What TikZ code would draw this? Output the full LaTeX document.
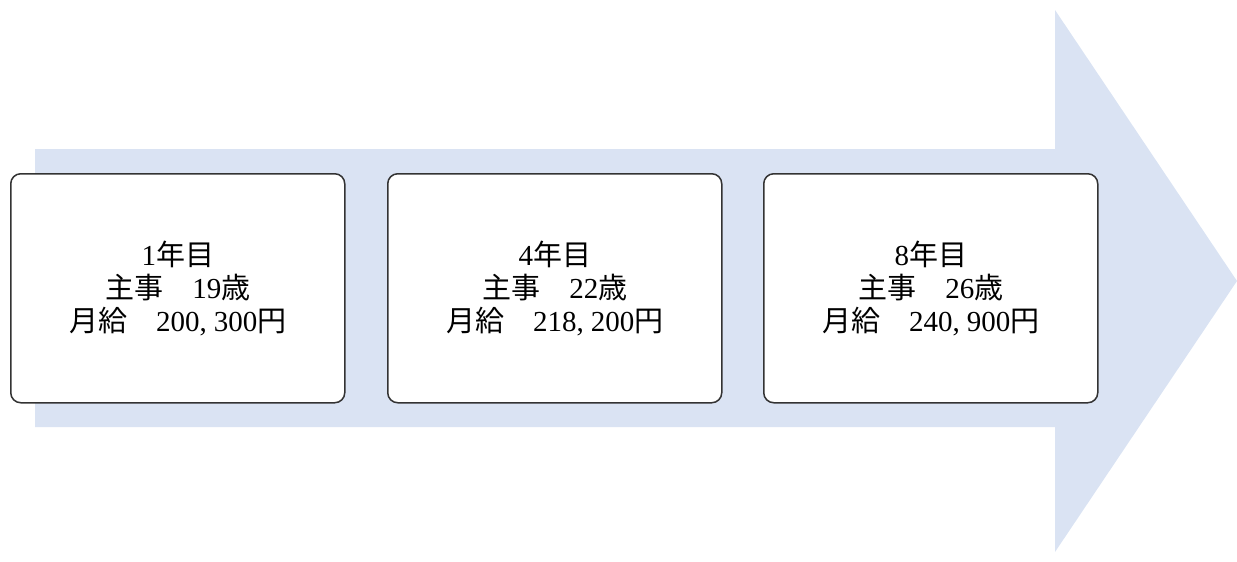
\documentclass[tikz,border=0pt]{standalone}
\usepackage{fontspec}
\setmainfont{Liberation Serif}
\newfontfamily\cjk{Noto Sans CJK JP}
\newcommand{\nm}[1]{{\rmfamily #1}}
\tikzset{
  stagebox/.style={draw=black!80, line width=1.5pt, fill=white, rounded corners=10pt,
    minimum width=334pt, minimum height=229pt, anchor=north west, inner sep=0pt},
  stagetext/.style={align=center, font=\cjk\fontsize{29}{33}\selectfont, inner sep=0pt},
}
\definecolor{arrowblue}{HTML}{DAE3F3}
\begin{document}
\begin{tikzpicture}[x=1pt,y=-1pt]
\useasboundingbox (0,0) rectangle (1237,562);
\fill[arrowblue] (35,149) -- (1055,149) -- (1055,10) -- (1237,281) -- (1055,552) -- (1055,427) -- (35,427) -- cycle;
\node[stagebox] (b1) at (10,173) {};
\node[stagebox] (b2) at (387,173) {};
\node[stagebox] (b3) at (763,173) {};
\node[stagetext] (t1) at (b1.center) {\nm{1}年目\\主事　\nm{19}歳\\月給　\nm{200,\hspace{0.25em}300}円};
\node[stagetext] (t2) at (b2.center) {\nm{4}年目\\主事　\nm{22}歳\\月給　\nm{218,\hspace{0.25em}200}円};
\node[stagetext] (t3) at (b3.center) {\nm{8}年目\\主事　\nm{26}歳\\月給　\nm{240,\hspace{0.25em}900}円};
\end{tikzpicture}
\end{document}
